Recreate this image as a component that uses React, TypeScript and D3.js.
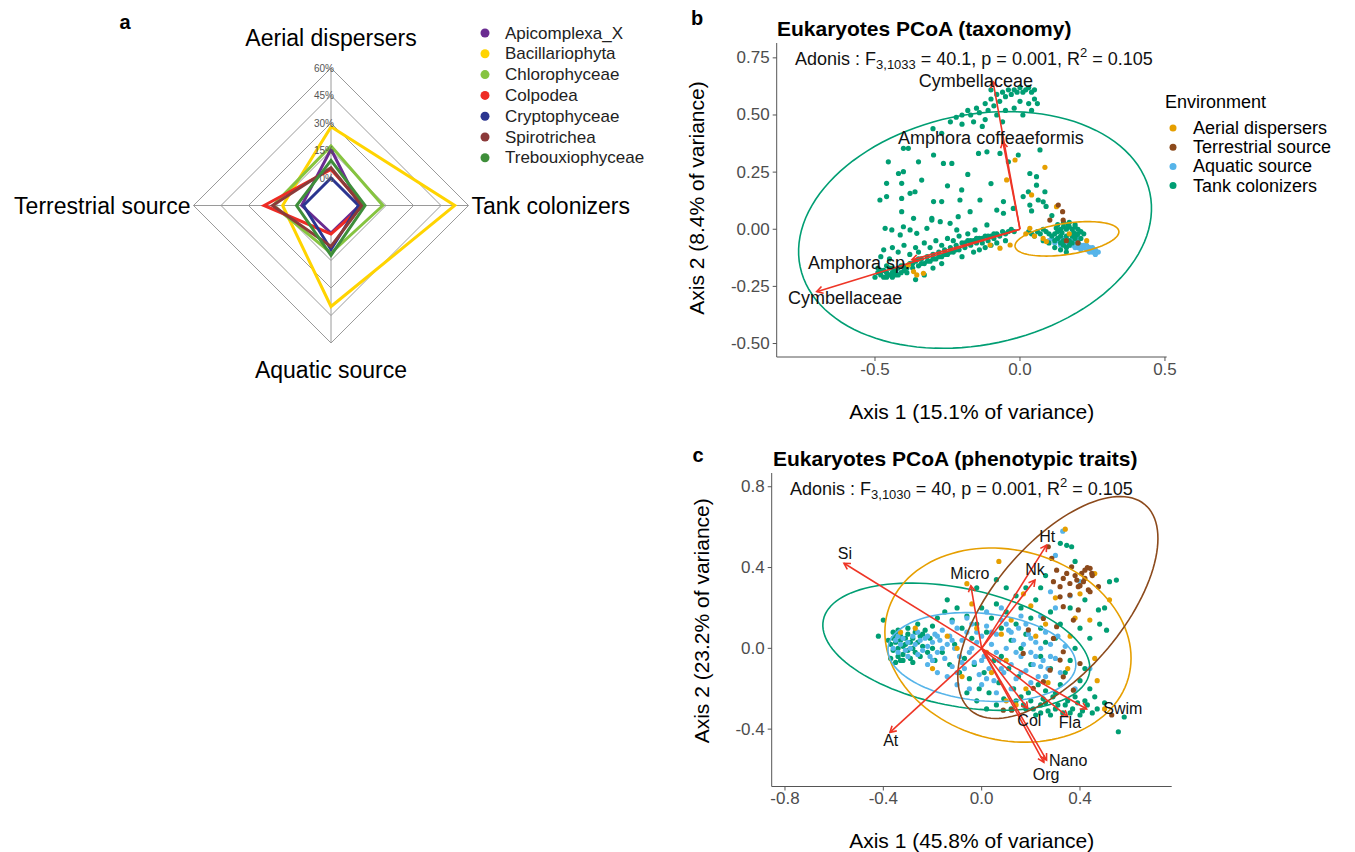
import React from 'react';
import * as d3 from 'd3';

const FONT = '"Liberation Sans", Arial, Helvetica, sans-serif';

// ---------- panel a : radar ----------
const radarAxes = ['Aerial dispersers', 'Tank colonizers', 'Aquatic source', 'Terrestrial source'];
const radarTicks = [0, 15, 30, 45, 60];
const taxa = ['Apicomplexa_X', 'Bacillariophyta', 'Chlorophyceae', 'Colpodea', 'Cryptophyceae', 'Spirotrichea', 'Trebouxiophyceae'];
const taxaColors = ['#6A2C91', '#FFD400', '#86C440', '#EE2B24', '#2B3590', '#8B3A3A', '#3E8E3A'];
// % per environment, same order as radarAxes
const taxaShares = [
  [15.7, 0.5, 0, 1],
  [27.9, 52.5, 40.1, 11.4],
  [17.5, 13.3, 10.9, 16.5],
  [4.7, 2.7, 0.5, 21.5],
  [0, 0, 9, 0],
  [5.6, 1.8, 7.3, 16.9],
  [9.6, 3.6, 12.2, 3.8],
];

// ---------- environments ----------
const envNames = ['Aerial dispersers', 'Terrestrial source', 'Aquatic source', 'Tank colonizers'];
const envColors = ['#E69F00', '#8C4A1C', '#56B4E9', '#009E73'];

// ---------- panel b : taxonomy PCoA ----------
const bAerial = [
  [-0.017, 0.303], [0.086, 0.271], [-0.046, 0.216], [0.126, 0.099], [-0.103, -0.069], [-0.069, -0.083],
  [-0.034, -0.069], [0.034, 0.004], [0.091, -0.054], [-0.367, -0.185], [-0.356, -0.2], [-0.333, -0.193],
  [-0.385, -0.156], [0.05, -0.03], [0.08, -0.04], [0.17, -0.02], [0.23, -0.05], [0.02, -0.02], [0.04, 0.15],
];
const bTerrestrial = [
  [0.132, 0.106], [0.147, 0.077], [0.103, 0.04], [0.149, 0.04], [0.16, -0.05], [0.2, -0.06],
];
const bAquatic = [
  [0.13, -0.04], [0.14, -0.05], [0.15, -0.04], [0.16, -0.06], [0.17, -0.05], [0.18, -0.07], [0.19, -0.06],
  [0.2, -0.08], [0.21, -0.07], [0.22, -0.08], [0.23, -0.09], [0.24, -0.08], [0.25, -0.1], [0.26, -0.09],
  [0.27, -0.1], [0.12, -0.06], [0.14, -0.07], [0.16, -0.08], [0.18, -0.05], [0.2, -0.06], [0.22, -0.07],
  [0.24, -0.1], [0.23, -0.07], [0.21, -0.09], [0.19, -0.08], [0.17, -0.07], [0.15, -0.06], [0.13, -0.05],
  [0.11, -0.04], [0.25, -0.08], [0.26, -0.11], [0.2, -0.04], [0.18, -0.03], [0.16, -0.04], [0.1, -0.05],
];
const bTank = [
  // upper arc
  [-0.24, 0.47], [-0.22, 0.49], [-0.2, 0.5], [-0.18, 0.52], [-0.17, 0.5], [-0.15, 0.53], [-0.14, 0.51],
  [-0.12, 0.55], [-0.11, 0.52], [-0.1, 0.57], [-0.09, 0.54], [-0.08, 0.59], [-0.07, 0.56], [-0.06, 0.6],
  [-0.05, 0.58], [-0.04, 0.61], [-0.03, 0.59], [-0.02, 0.61], [-0.01, 0.6], [0.0, 0.62], [0.01, 0.6],
  [0.02, 0.61], [0.03, 0.62], [0.04, 0.6], [0.05, 0.61], [0.05, 0.57], [0.03, 0.55], [0.0, 0.56],
  [-0.02, 0.53], [-0.05, 0.52], [-0.08, 0.5], [-0.12, 0.48], [-0.06, 0.47], [0.01, 0.5], [0.04, 0.52],
  [-0.13, 0.45], [-0.2, 0.46], [-0.16, 0.47], [0.06, 0.55], [-0.1, 0.61], [-0.3, 0.44], [-0.27, 0.42],
  // middle cloud
  [-0.402, 0.354], [-0.385, 0.354], [-0.298, 0.325], [-0.264, 0.288], [-0.235, 0.288], [-0.454, 0.295],
  [-0.419, 0.244], [-0.35, 0.295], [-0.402, 0.252], [-0.339, 0.215], [-0.46, 0.201], [-0.408, 0.201],
  [-0.483, 0.128], [-0.46, 0.143], [-0.408, 0.135], [-0.379, 0.157], [-0.362, 0.164], [-0.298, 0.121],
  [-0.27, 0.121], [-0.201, 0.172], [-0.207, 0.128], [-0.172, 0.077], [-0.138, 0.128], [-0.213, 0.055],
  [-0.304, 0.048], [-0.304, 0.04], [-0.367, 0.048], [-0.408, 0.077], [-0.465, 0.004], [-0.442, -0.003],
  [-0.402, 0.011], [-0.379, -0.003], [-0.413, -0.025], [-0.356, -0.018], [-0.321, 0.004], [-0.275, 0.033],
  [-0.241, 0.026], [-0.218, -0.003], [-0.155, -0.003], [-0.114, 0.019], [-0.08, 0.084], [-0.057, 0.07],
  [-0.057, 0.121], [-0.023, 0.091], [0.011, 0.143], [0.029, 0.164], [0.057, 0.193], [0.057, 0.23],
  [0.034, 0.244], [-0.006, 0.325], [-0.069, 0.332], [-0.114, 0.339], [-0.143, 0.332], [-0.04, 0.295],
  [0.034, 0.106], [0.063, 0.128], [0.086, 0.164], [0.069, 0.347], [-0.18, 0.24], [-0.1, 0.2],
  [-0.25, 0.19], [0.09, 0.1], [0.11, 0.06], [0.08, 0.12], [0.04, 0.08],
  // lower band
  [-0.5, -0.21], [-0.49, -0.19], [-0.48, -0.2], [-0.47, -0.18], [-0.47, -0.21], [-0.46, -0.19], [-0.45, -0.2],
  [-0.45, -0.17], [-0.44, -0.19], [-0.43, -0.18], [-0.43, -0.2], [-0.42, -0.17], [-0.41, -0.19], [-0.41, -0.16],
  [-0.4, -0.18], [-0.39, -0.17], [-0.38, -0.15], [-0.37, -0.17], [-0.36, -0.14], [-0.35, -0.16], [-0.34, -0.13],
  [-0.33, -0.15], [-0.32, -0.12], [-0.31, -0.14], [-0.3, -0.11], [-0.29, -0.13], [-0.28, -0.1], [-0.27, -0.12],
  [-0.26, -0.09], [-0.25, -0.11], [-0.24, -0.08], [-0.23, -0.1], [-0.22, -0.07], [-0.21, -0.09], [-0.2, -0.06],
  [-0.19, -0.08], [-0.18, -0.05], [-0.17, -0.07], [-0.16, -0.05], [-0.15, -0.06], [-0.14, -0.04], [-0.13, -0.06],
  [-0.12, -0.03], [-0.11, -0.05], [-0.1, -0.03], [-0.09, -0.04], [-0.08, -0.02], [-0.07, -0.03], [-0.06, -0.01],
  [-0.05, -0.02], [-0.04, -0.01], [-0.03, 0.0], [-0.02, -0.01], [-0.48, -0.12], [-0.47, -0.09], [-0.44, -0.08],
  [-0.45, -0.13], [-0.42, -0.1], [-0.4, -0.07], [-0.38, -0.11], [-0.36, -0.08], [-0.35, -0.1], [-0.33, -0.06],
  [-0.31, -0.08], [-0.29, -0.05], [-0.27, -0.07], [-0.25, -0.04], [-0.23, -0.05], [-0.21, -0.03], [-0.18, -0.02],
  [-0.16, -0.1], [-0.14, -0.09], [-0.12, -0.08], [-0.1, -0.07], [-0.08, -0.06], [-0.36, -0.22], [-0.33, -0.2],
  [-0.3, -0.17], [-0.27, -0.15], [-0.2, -0.12], [-0.05, -0.05], [-0.49, -0.17], [-0.46, -0.16], [-0.44, -0.21],
  [-0.48, -0.18], [-0.46, -0.21], [-0.44, -0.17], [-0.42, -0.2], [-0.4, -0.16], [-0.39, -0.19], [-0.37, -0.15],
  [-0.35, -0.13], [-0.34, -0.15], [-0.32, -0.14], [-0.3, -0.13], [-0.28, -0.12], [-0.26, -0.11], [-0.24, -0.1],
  [-0.22, -0.09], [-0.19, -0.06], [-0.17, -0.05], [-0.15, -0.04], [-0.13, -0.04], [-0.11, -0.03], [-0.09, -0.02],
  // right cluster
  [0.12, -0.02], [0.13, -0.01], [0.14, 0.0], [0.15, 0.01], [0.16, 0.0], [0.17, 0.01], [0.18, 0.0], [0.19, 0.01],
  [0.2, 0.0], [0.21, -0.01], [0.13, -0.04], [0.14, -0.03], [0.15, -0.05], [0.16, -0.03], [0.17, -0.05],
  [0.18, -0.03], [0.19, -0.04], [0.2, -0.02], [0.21, -0.04], [0.15, -0.07], [0.16, -0.08], [0.17, -0.07],
  [0.18, -0.06], [0.14, -0.06], [0.12, -0.05], [0.11, -0.03], [0.1, -0.02], [0.09, -0.01], [0.08, 0.0],
  [0.07, -0.02], [0.06, -0.01], [0.05, -0.03], [0.04, -0.02], [0.03, -0.01], [0.19, 0.02], [0.17, 0.03],
  [0.15, 0.03], [0.13, 0.02], [0.2, -0.06], [0.22, -0.02], [0.16, -0.1], [0.14, -0.09], [0.12, -0.08],
  [0.1, -0.06], [0.08, -0.05], [0.165, 0.02], [0.185, -0.015], [0.145, -0.015], [0.125, 0.005], [0.195, -0.025],
];
const bArrows = [
  { name: 'Cymbellaceae', x: -0.093, y: 0.646, lx: -0.152, ly: 0.649 },
  { name: 'Amphora coffeaeformis', x: -0.059, y: 0.383, lx: -0.1, ly: 0.399 },
  { name: 'Amphora sp.', x: -0.373, y: -0.134, lx: -0.555, ly: -0.147 },
  { name: 'Cymbellaceae', x: -0.701, y: -0.273, lx: -0.603, ly: -0.3 },
];
// ellipse: centre, two conjugate half-axis vectors (data units)
const bEllipses = [
  { env: 3, c: [-0.155, -0.003], u: [0.603, 0.162], v: [-0.082, 0.492] },
  { env: 0, c: [0.162, -0.042], u: [0.179, 0.028], v: [0.007, 0.07] },
];

// ---------- panel c : phenotypic traits PCoA ----------
const cAerial = [
  [0.34, 0.59], [0.07, 0.43], [-0.06, 0.32], [0.17, 0.27], [0.2, 0.21], [0.3, 0.25], [0.4, 0.27], [0.46, 0.37],
  [0.52, 0.24], [0.44, 0.14], [0.36, 0.06], [0.26, 0.12], [0.12, 0.14], [-0.02, 0.1], [-0.14, 0.06], [-0.27, 0.1],
  [-0.33, 0.08], [-0.2, -0.1], [-0.08, -0.14], [0.04, -0.12], [0.1, -0.06], [0.18, -0.2], [0.27, -0.17],
  [0.35, -0.1], [0.47, -0.16], [0.46, -0.05], [0.5, -0.3], [0.14, -0.28], [0.1, -0.26], [0.02, -0.02],
  [-0.1, 0.0], [0.22, 0.06], [0.38, 0.15], [-0.04, 0.22], [0.08, 0.07],
];
const cTerrestrial = [
  [0.305, 0.387], [0.292, 0.33], [0.332, 0.346], [0.359, 0.321], [0.387, 0.338], [0.407, 0.371], [0.42, 0.387],
  [0.441, 0.396], [0.448, 0.371], [0.414, 0.33], [0.393, 0.305], [0.434, 0.289], [0.359, 0.264], [0.319, 0.255],
  [0.332, 0.206], [0.393, 0.19], [0.373, 0.14], [0.305, 0.107], [0.251, 0.148], [0.292, 0.049], [0.332, -0.017],
  [0.319, -0.058], [0.278, -0.108], [0.251, -0.165], [0.332, -0.141], [0.373, -0.207], [0.21, -0.198],
  [0.088, -0.306], [0.122, -0.306], [0.529, -0.33], [0.285, 0.445], [0.271, 0.503], [0.441, 0.28],
  [0.475, 0.305], [0.346, 0.371], [0.366, 0.404], [0.319, 0.305], [0.42, 0.346], [0.19, 0.091],
  [0.169, -0.025], [0.4, -0.075], [0.45, 0.36], [0.43, 0.4], [0.38, 0.36], [0.4, 0.31],
];
const cAquatic = [
  [-0.36, 0.0], [-0.35, 0.04], [-0.34, -0.02], [-0.33, 0.02], [-0.32, 0.05], [-0.31, -0.01], [-0.3, 0.03],
  [-0.29, 0.0], [-0.28, 0.06], [-0.27, 0.02], [-0.26, -0.03], [-0.25, 0.04], [-0.24, -0.01], [-0.23, 0.05],
  [-0.22, 0.01], [-0.21, -0.04], [-0.2, 0.03], [-0.19, 0.07], [-0.18, -0.02], [-0.17, 0.04], [-0.16, 0.09],
  [-0.15, -0.05], [-0.14, 0.02], [-0.13, 0.06], [-0.12, -0.09], [-0.11, 0.0], [-0.1, 0.1], [-0.09, -0.04],
  [-0.08, 0.04], [-0.07, -0.1], [-0.06, 0.08], [-0.05, -0.02], [-0.04, 0.12], [-0.03, -0.07], [-0.02, 0.03],
  [-0.01, -0.13], [0.0, 0.06], [0.01, -0.04], [0.02, 0.11], [0.03, -0.1], [0.04, 0.02], [0.05, -0.16],
  [0.06, 0.07], [0.07, -0.06], [0.08, 0.14], [0.09, -0.12], [0.1, 0.0], [0.11, 0.09], [0.12, -0.08],
  [0.13, 0.04], [0.14, -0.15], [0.15, 0.1], [0.16, -0.04], [0.17, 0.02], [0.18, -0.11], [0.19, 0.07],
  [0.2, -0.02], [0.21, -0.08], [0.22, 0.03], [0.23, -0.14], [0.24, 0.0], [0.25, -0.06], [0.26, 0.08],
  [0.27, -0.1], [0.28, 0.02], [0.3, -0.05], [0.32, -0.12], [0.34, 0.01], [-0.22, -0.08], [-0.18, -0.12],
  [-0.14, -0.14], [-0.1, -0.18], [-0.05, -0.2], [0.0, -0.18], [0.06, -0.22], [0.12, -0.2], [0.2, -0.17],
  [0.16, 0.16], [0.08, 0.2], [0.02, 0.18], [-0.06, 0.15], [-0.12, 0.13], [0.24, 0.16], [0.3, 0.2],
  [0.36, 0.26], [0.3, 0.46], [0.33, 0.58], [0.28, 0.28], [0.4, 0.33], [0.44, -0.1], [0.38, -0.2],
  [-0.34, 0.06], [-0.3, -0.04], [-0.26, 0.08], [-0.22, 0.06], [-0.2, -0.06], [-0.16, 0.0], [-0.12, 0.04],
  [-0.08, -0.07], [-0.04, 0.0], [0.0, -0.06], [0.04, 0.08], [0.08, -0.1], [0.12, 0.08], [0.16, -0.12],
  [0.2, 0.05], [0.24, -0.09], [0.28, -0.04], [0.31, 0.06], [0.26, -0.14], [0.14, -0.02], [0.06, -0.02],
  [-0.02, 0.08], [-0.1, -0.12], [-0.18, 0.06], [0.1, 0.12], [0.18, 0.12], [0.22, -0.04], [0.02, -0.15],
];
const cTank = [
  [-0.37, 0.02], [-0.36, 0.05], [-0.36, -0.01], [-0.35, 0.03], [-0.35, 0.07], [-0.34, 0.0], [-0.34, -0.04],
  [-0.33, 0.04], [-0.33, 0.06], [-0.32, 0.01], [-0.32, -0.03], [-0.31, 0.05], [-0.31, 0.02], [-0.3, -0.01],
  [-0.3, 0.07], [-0.29, 0.03], [-0.29, -0.05], [-0.28, 0.0], [-0.28, 0.05], [-0.27, 0.08], [-0.27, -0.02],
  [-0.26, 0.03], [-0.25, 0.06], [-0.25, -0.04], [-0.24, 0.01], [-0.23, 0.09], [-0.22, -0.02], [-0.21, 0.05],
  [-0.2, 0.11], [-0.19, -0.06], [-0.37, -0.05], [-0.35, -0.07], [-0.33, -0.06], [-0.3, 0.1], [-0.26, 0.12],
  [-0.18, 0.15], [-0.15, 0.18], [-0.12, 0.14], [-0.1, 0.2], [-0.08, 0.1], [-0.06, 0.16], [-0.04, 0.05],
  [-0.02, 0.12], [0.0, 0.2], [0.02, 0.08], [0.04, 0.15], [0.06, 0.22], [0.08, 0.1], [0.1, 0.18], [0.12, 0.04],
  [0.14, 0.12], [0.16, 0.2], [0.18, 0.07], [0.2, 0.15], [0.22, 0.24], [0.24, 0.1], [0.26, 0.03],
  [-0.16, -0.02], [-0.13, -0.08], [-0.11, 0.02], [-0.09, -0.12], [-0.07, -0.05], [-0.05, -0.15], [-0.03, -0.08],
  [-0.01, -0.2], [0.01, -0.12], [0.03, -0.22], [0.05, -0.06], [0.07, -0.17], [0.09, -0.25], [0.11, -0.1],
  [0.13, -0.2], [0.15, -0.14], [0.17, -0.28], [0.19, -0.22], [0.21, -0.3], [0.23, -0.18], [0.25, -0.25],
  [0.27, -0.31], [0.29, -0.24], [0.31, -0.28], [0.33, -0.32], [0.35, -0.26], [0.37, -0.3], [0.39, -0.27],
  [0.41, -0.31], [0.43, -0.28], [0.45, -0.32], [0.47, -0.3], [0.2, -0.26], [0.22, -0.33], [0.24, -0.28],
  [0.26, -0.21], [0.28, -0.33], [0.3, -0.22], [0.32, -0.18], [0.34, -0.12], [0.36, -0.06], [0.38, 0.0],
  [0.4, -0.16], [0.42, -0.1], [0.44, -0.2], [0.46, -0.24], [0.3, 0.05], [0.32, 0.12], [0.28, 0.18],
  [0.36, 0.2], [0.4, 0.1], [0.44, 0.05], [0.48, 0.12], [0.5, 0.2], [0.52, 0.33], [0.548, 0.338], [0.475, 0.19],
  [0.508, 0.09], [0.42, 0.24], [0.38, 0.43], [0.366, 0.503], [0.346, 0.51], [0.26, 0.36], [0.24, 0.3],
  [0.32, 0.52], [0.18, 0.3], [0.14, 0.26], [0.1, 0.3], [0.06, 0.34], [-0.02, 0.3], [0.58, -0.34],
  [0.556, -0.413], [0.5, -0.27], [-0.4, 0.14], [-0.42, 0.06], [-0.14, 0.24], [0.12, -0.3], [0.02, -0.3],
  [-0.06, -0.22], [0.08, -0.04], [0.16, 0.0], [0.2, -0.08], [0.24, -0.04], [0.28, -0.1],
  [-0.38, 0.04], [-0.36, 0.08], [-0.34, 0.09], [-0.32, -0.06], [-0.28, -0.07], [-0.24, 0.07], [-0.2, 0.0],
  [0.16, -0.24], [0.18, -0.3], [0.24, -0.32], [0.3, -0.3], [0.34, -0.28], [0.38, -0.24], [0.42, -0.26],
  [0.26, -0.27], [0.14, -0.26], [0.06, -0.28], [-0.02, -0.26], [0.36, -0.32], [0.4, -0.33],
];
const cArrows = [
  { name: 'Si', x: -0.56, y: 0.421, lx: -0.556, ly: 0.47 },
  { name: 'Micro', x: -0.044, y: 0.31, lx: -0.048, ly: 0.368 },
  { name: 'Ht', x: 0.264, y: 0.511, lx: 0.267, ly: 0.552 },
  { name: 'Nk', x: 0.217, y: 0.338, lx: 0.217, ly: 0.388 },
  { name: 'At', x: -0.373, y: -0.416, lx: -0.37, ly: -0.454 },
  { name: 'Swim', x: 0.427, y: -0.3, lx: 0.574, ly: -0.3 },
  { name: 'Fla', x: 0.35, y: -0.338, lx: 0.359, ly: -0.366 },
  { name: 'Col', x: 0.187, y: -0.297, lx: 0.194, ly: -0.355 },
  { name: 'Nano', x: 0.264, y: -0.553, lx: 0.352, ly: -0.553 },
  { name: 'Org', x: 0.253, y: -0.564, lx: 0.262, ly: -0.624 },
];
const cEllipses = [
  { env: 3, c: [-0.103, 0.008], u: [0.541, -0.132], v: [0.047, 0.286] },
  { env: 0, c: [0.107, 0.016], u: [0.5, -0.04], v: [-0.026, 0.479] },
  { env: 2, c: [0.001, -0.043], u: [0.382, -0.03], v: [-0.011, 0.218] },
  { env: 1, c: [0.31, 0.202], u: [0.407, 0.342], v: [0, -0.43] },
];

const ARROW = '#EE3526';

function Radar() {
  const cx = 331, cy = 205.5, R = 137.5;
  const r = d3.scaleLinear().domain([-15, 60]).range([0, R]);
  const ang = (i: number) => -Math.PI / 2 + (i * Math.PI) / 2;
  const pt = (i: number, v: number): [number, number] => [cx + r(v) * Math.cos(ang(i)), cy + r(v) * Math.sin(ang(i))];
  const poly = d3.line().curve(d3.curveLinearClosed);
  return (
    <g fontFamily={FONT}>
      <text x={125} y={22} fontSize={20} fontWeight="bold" textAnchor="middle" dominantBaseline="central">a</text>
      {radarTicks.map((t) => (
        <path key={t} d={poly(radarAxes.map((_, i) => pt(i, t)))!} fill="none" stroke="#9a9a9a" strokeWidth={1} />
      ))}
      {radarAxes.map((_, i) => {
        const [x1, y1] = pt(i, 0);
        const [x2, y2] = pt(i, 60);
        return <line key={i} x1={x1} y1={y1} x2={x2} y2={y2} stroke="#9a9a9a" strokeWidth={1} />;
      })}
      {taxaShares.map((vals, k) => (
        <path key={k} d={poly(vals.map((v, i) => pt(i, v)))!} fill="none" stroke={taxaColors[k]} strokeWidth={3} strokeLinejoin="miter" />
      ))}
      {radarTicks.map((t) => (
        <text key={t} x={cx + 3} y={cy - r(t)} fontSize={10} fill="#555" textAnchor="end" dominantBaseline="central">{t}%</text>
      ))}
      <text x={cx} y={cy - R - 30} fontSize={23} textAnchor="middle" dominantBaseline="central">{radarAxes[0]}</text>
      <text x={cx + R + 3} y={cy} fontSize={23} textAnchor="start" dominantBaseline="central">{radarAxes[1]}</text>
      <text x={cx} y={cy + R + 27} fontSize={23} textAnchor="middle" dominantBaseline="central">{radarAxes[2]}</text>
      <text x={cx - R - 3} y={cy} fontSize={23} textAnchor="end" dominantBaseline="central">{radarAxes[3]}</text>
      {taxa.map((name, k) => (
        <g key={name} transform={`translate(485, ${33 + k * 20.8})`}>
          <circle r={4.5} fill={taxaColors[k]} />
          <text x={20} fontSize={17} fill="#222" dominantBaseline="central">{name}</text>
        </g>
      ))}
    </g>
  );
}

function headPath(x1: number, y1: number, x2: number, y2: number, len = 7) {
  const a = Math.atan2(y2 - y1, x2 - x1);
  const s = Math.PI / 6;
  return `M${x2 - len * Math.cos(a - s)},${y2 - len * Math.sin(a - s)}L${x2},${y2}L${x2 - len * Math.cos(a + s)},${y2 - len * Math.sin(a + s)}`;
}

type PanelProps = {
  letter: string;
  letterPos: [number, number];
  title: string;
  sub: string;
  stats: string;
  frame: { l: number; r: number; t: number; b: number };
  xDomain: [number, number];
  yDomain: [number, number];
  xTicks: number[];
  yTicks: number[];
  yFmt: string;
  xTitle: string;
  yTitle: string;
  yTitlePos: [number, number];
  groups: number[][][];
  order: number[];
  ellipses: { env: number; c: number[]; u: number[]; v: number[] }[];
  arrows: { name: string; x: number; y: number; lx: number; ly: number }[];
  labelSize: number;
  titleX: number;
  statsX: number;
};

function Pcoa(p: PanelProps) {
  const { l, r, t, b } = p.frame;
  const x = d3.scaleLinear().domain(p.xDomain).range([l, r]);
  const y = d3.scaleLinear().domain(p.yDomain).range([b, t]);
  const line = d3.line().curve(d3.curveLinearClosed);
  const ts = d3.range(0, 120).map((i) => (i / 120) * Math.PI * 2);
  const fmtX = d3.format('.1f');
  const fmtY = d3.format(p.yFmt);
  const minus = (s: string) => s.replace('−', '-');
  return (
    <g fontFamily={FONT}>
      <text x={p.letterPos[0]} y={p.letterPos[1]} fontSize={20} fontWeight="bold" textAnchor="middle" dominantBaseline="central">{p.letter}</text>
      <text x={p.titleX} y={t - 15} fontSize={21} fontWeight="bold" dominantBaseline="central">{p.title}</text>
      {p.order.map((g) =>
        p.groups[g].map((d, i) => (
          <circle key={`${g}-${i}`} cx={x(d[0])} cy={y(d[1])} r={2.6} fill={envColors[g]} />
        ))
      )}
      {p.ellipses.map((e, i) => (
        <path
          key={i}
          d={line(ts.map((a) => [
            x(e.c[0] + e.u[0] * Math.cos(a) + e.v[0] * Math.sin(a)),
            y(e.c[1] + e.u[1] * Math.cos(a) + e.v[1] * Math.sin(a)),
          ]))!}
          fill="none"
          stroke={envColors[e.env]}
          strokeWidth={1.6}
        />
      ))}
      {p.arrows.map((a, i) => (
        <g key={i}>
          <line x1={x(0)} y1={y(0)} x2={x(a.x)} y2={y(a.y)} stroke={ARROW} strokeWidth={1.6} />
          <path d={headPath(x(0), y(0), x(a.x), y(a.y))} fill="none" stroke={ARROW} strokeWidth={1.6} />
        </g>
      ))}
      {p.arrows.map((a, i) => (
        <text key={i} x={x(a.lx)} y={y(a.ly)} fontSize={p.labelSize} fill="#111" textAnchor="middle" dominantBaseline="central">{a.name}</text>
      ))}
      <text x={p.statsX} y={t + 16} fontSize={18} fill="#111" dominantBaseline="central">
        {'Adonis : F'}
        <tspan fontSize={13} dy={5}>{p.sub}</tspan>
        <tspan dy={-5}>{p.stats.split('|')[0]}</tspan>
        <tspan fontSize={13} dy={-7}>2</tspan>
        <tspan dy={7}>{p.stats.split('|')[1]}</tspan>
      </text>
      <line x1={l} y1={t} x2={l} y2={b} stroke="#555" strokeWidth={1} />
      <line x1={l} y1={b} x2={r} y2={b} stroke="#555" strokeWidth={1} />
      {p.yTicks.map((v) => (
        <g key={v}>
          <line x1={l - 4} x2={l} y1={y(v)} y2={y(v)} stroke="#555" />
          <text x={l - 7} y={y(v)} fontSize={17} fill="#4d4d4d" textAnchor="end" dominantBaseline="central">{minus(fmtY(v))}</text>
        </g>
      ))}
      {p.xTicks.map((v) => (
        <g key={v}>
          <line x1={x(v)} x2={x(v)} y1={b} y2={b + 4} stroke="#555" />
          <text x={x(v)} y={b + 12} fontSize={17} fill="#4d4d4d" textAnchor="middle" dominantBaseline="central">{minus(fmtX(v))}</text>
        </g>
      ))}
      <text x={(l + r) / 2} y={b + 54} fontSize={21} textAnchor="middle" dominantBaseline="central">{p.xTitle}</text>
      <text transform={`translate(${p.yTitlePos[0]}, ${p.yTitlePos[1]}) rotate(-90)`} fontSize={21} textAnchor="middle" dominantBaseline="central">{p.yTitle}</text>
    </g>
  );
}

function EnvLegend() {
  return (
    <g fontFamily={FONT}>
      <text x={1165} y={101.5} fontSize={18} dominantBaseline="central">Environment</text>
      {envNames.map((n, i) => (
        <g key={n} transform={`translate(1173, ${128 + i * 19.2})`}>
          <circle r={3.5} fill={envColors[i]} />
          <text x={20} fontSize={18} dominantBaseline="central">{n}</text>
        </g>
      ))}
    </g>
  );
}

export default function App() {
  return (
    <svg width={1355} height={852} style={{ position: 'absolute', left: 0, top: 0, background: '#fff' }}>
      <rect width={1355} height={852} fill="#fff" />
      <Radar />
      <Pcoa
        letter="b"
        letterPos={[697, 18]}
        title="Eukaryotes PCoA (taxonomy)"
        sub="3,1033"
        stats=" = 40.1, p = 0.001, R| = 0.105"
        frame={{ l: 776.7, r: 1166.7, t: 43, b: 357 }}
        xDomain={[-0.839, 0.506]}
        yDomain={[-0.559, 0.815]}
        xTicks={[-0.5, 0, 0.5]}
        yTicks={[-0.5, -0.25, 0, 0.25, 0.5, 0.75]}
        yFmt=".2f"
        xTitle="Axis 1 (15.1% of variance)"
        yTitle="Axis 2 (8.4% of variance)"
        yTitlePos={[696.7, 198]}
        groups={[bAerial, bTerrestrial, bAquatic, bTank]}
        order={[2, 3, 0, 1]}
        ellipses={bEllipses}
        arrows={bArrows}
        labelSize={18}
        titleX={777}
        statsX={795}
      />
      <Pcoa
        letter="c"
        letterPos={[698, 455]}
        title="Eukaryotes PCoA (phenotypic traits)"
        sub="3,1030"
        stats=" = 40, p = 0.001, R| = 0.105"
        frame={{ l: 771.7, r: 1171.7, t: 473, b: 786.5 }}
        xDomain={[-0.854, 0.773]}
        yDomain={[-0.684, 0.868]}
        xTicks={[-0.8, -0.4, 0, 0.4]}
        yTicks={[-0.4, 0, 0.4, 0.8]}
        yFmt=".1f"
        xTitle="Axis 1 (45.8% of variance)"
        yTitle="Axis 2 (23.2% of variance)"
        yTitlePos={[701.7, 620.8]}
        groups={[cAerial, cTerrestrial, cAquatic, cTank]}
        order={[3, 2, 0, 1]}
        ellipses={cEllipses}
        arrows={cArrows}
        labelSize={16}
        titleX={773}
        statsX={790}
      />
      <EnvLegend />
    </svg>
  );
}
